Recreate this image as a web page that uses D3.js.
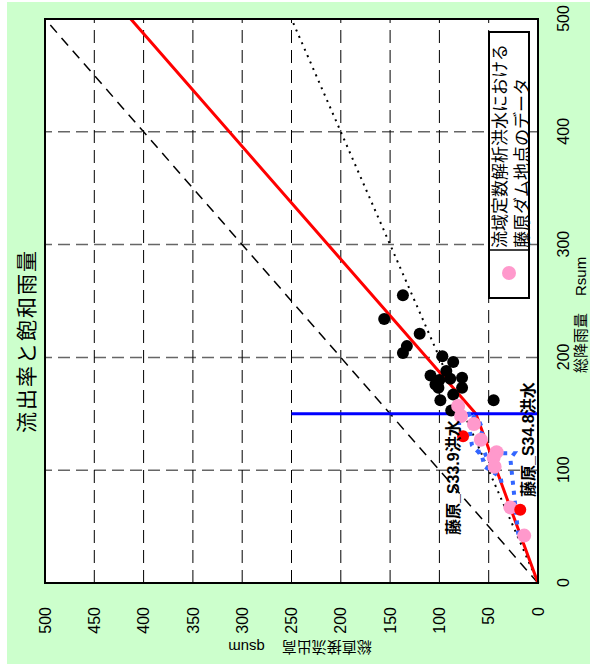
<!DOCTYPE html>
<html><head><meta charset="utf-8">
<script src="https://cdn.jsdelivr.net/npm/d3@7"></script>
<style>body{margin:0;background:#fff}svg{display:block}</style>
</head><body>
<svg id="c" width="590" height="669"></svg>
<script>
// ---- data (x = 総降雨量 Rsum, y = 総直接流出高 qsum) ----
const rsumTicks = [0,100,200,300,400,500];
const qsumTicks = [0,50,100,150,200,250,300,350,400,450,500];
const blackR = [255,234,221,210,204,201,196,188,184,182,181,180,176,173,173,167,162,162,153];
const blackQ = [137,156,120,133,137, 97, 86, 93,109, 77, 89,100,104,101, 77, 86, 99, 45, 88];
const pinkR = [157,148,141,127,116,111,103,67,42];
const pinkQ = [ 81, 78, 65, 58, 42, 45, 44,28,14];
const redR = [130,65];
const redQ = [ 76,18];
const redLabels = ["藤原_S33.9洪水","藤原_S34.8洪水"];
const modelR = [0,150,500];
const modelQ = [0,63,413];
const oneToOneR = [0,500], oneToOneQ = [0,500];
const halfR = [0,500], halfQ = [0,250];
const satR = [150,150], satQ = [0,250];
const traceA_R = [140,150,150,142,134,122,113,103,94,84];
const traceA_Q = [ 80, 80, 70, 67, 69, 67, 57, 54,38,36];
const traceB_R = [43,85,110,115,115,115,112,121,136,144,150];
const traceB_Q = [20,25, 28, 24, 36, 50, 58, 62, 56, 60, 69];
const title = "流出率と飽和雨量";
const xTitle = ["総降雨量","Rsum"];
const yTitle = ["総直接流出高","qsum"];
const legendLines = ["流域定数解析洪水における","藤原ダム地点のデータ"];

const svg = d3.select("#c");
svg.append("rect").attr("x",7).attr("y",2).attr("width",583).attr("height",662).attr("fill","#CCFFCC");

// original (unrotated) frame: width 669, height 590; rotated -90deg onto the page
const g = svg.append("g").attr("transform","translate(0,669) rotate(-90)");
const x = d3.scaleLinear().domain([0,500]).range([86,650]);
const y = d3.scaleLinear().domain([0,500]).range([538,45]);
const [x0,x1] = x.range(), [y0,y1] = [y(0), y(500)];

g.append("rect").attr("x",x0).attr("y",y1).attr("width",x1-x0).attr("height",y0-y1).attr("fill","#fff");

// grid
g.append("g").selectAll("line").data(rsumTicks.filter(d=>d>0&&d<500)).join("line")
  .attr("x1",d=>x(d)).attr("x2",d=>x(d)).attr("y1",y0).attr("y2",y1)
  .attr("stroke","#666").attr("stroke-width",1.5).attr("stroke-dasharray","12,6");
g.append("g").selectAll("line").data(qsumTicks.filter(d=>d>0&&d<500)).join("line")
  .attr("x1",x0).attr("x2",x1).attr("y1",d=>y(d)).attr("y2",d=>y(d))
  .attr("stroke","#000").attr("stroke-width",1).attr("stroke-dasharray","13,7");

const line = d3.line().x(d=>x(d[0])).y(d=>y(d[1]));
const zip = (a,b)=>a.map((v,i)=>[v,b[i]]);

g.append("path").attr("d",line(zip(oneToOneR,oneToOneQ))).attr("fill","none")
  .attr("stroke","#000").attr("stroke-width",1.5).attr("stroke-dasharray","10,7");
g.append("path").attr("d",line(zip(halfR,halfQ))).attr("fill","none")
  .attr("stroke","#000").attr("stroke-width",2).attr("stroke-dasharray","2,5");
g.append("path").attr("d",line(zip(modelR,modelQ))).attr("fill","none")
  .attr("stroke","#FF0000").attr("stroke-width",3);
g.append("path").attr("d",line(zip(satR,satQ))).attr("fill","none")
  .attr("stroke","#0000FF").attr("stroke-width",3);

g.append("g").selectAll("circle").data(zip(blackR,blackQ)).join("circle")
  .attr("cx",d=>x(d[0])).attr("cy",d=>y(d[1])).attr("r",6).attr("fill","#000");

[zip(traceA_R,traceA_Q), zip(traceB_R,traceB_Q)].forEach(t=>{
  g.append("path").attr("d",line(t)).attr("fill","none")
    .attr("stroke","#3366FF").attr("stroke-width",4).attr("stroke-dasharray","4,6");
});

g.append("g").selectAll("circle").data(zip(pinkR,pinkQ)).join("circle")
  .attr("cx",d=>x(d[0])).attr("cy",d=>y(d[1])).attr("r",7).attr("fill","#FF99CC");
g.append("g").selectAll("circle").data(zip(redR,redQ)).join("circle")
  .attr("cx",d=>x(d[0])).attr("cy",d=>y(d[1])).attr("r",6).attr("fill","#FF0000");

// data labels
const labelPos = [[134-86,453],[172-86,528]];
const lab = g.append("g").attr("font-family","'Liberation Sans','Noto Sans CJK JP',sans-serif")
  .attr("font-weight","bold").attr("font-size",16);
lab.selectAll("text").data(redLabels).join("text")
  .attr("x",(d,i)=>x0+labelPos[i][0]).attr("y",(d,i)=>labelPos[i][1])
  .attr("dominant-baseline","central").text(d=>d);

// frame
g.append("rect").attr("x",x0).attr("y",y1).attr("width",x1-x0).attr("height",y0-y1)
  .attr("fill","none").attr("stroke","#000").attr("stroke-width",2);

// axes
const fontTick = "'Liberation Sans',Arial,sans-serif";
const ax = g.append("g").attr("transform",`translate(0,${y0})`)
  .call(d3.axisBottom(x).tickValues(rsumTicks).tickSize(0).tickPadding(20));
const ay = g.append("g").attr("transform",`translate(${x0},0)`)
  .call(d3.axisLeft(y).tickValues(qsumTicks).tickSize(0).tickPadding(24));
[ax,ay].forEach(a=>{a.select(".domain").remove();
  a.selectAll("text").attr("font-family",fontTick).attr("font-size",16).attr("fill","#000");});

// axis titles
const tx = g.append("text").attr("x",296).attr("y",580).attr("dominant-baseline","central")
  .attr("font-family","'Liberation Sans','Noto Sans CJK JP',sans-serif").attr("font-size",15);
tx.append("tspan").text(xTitle[0]);
tx.append("tspan").attr("dx",17).text(xTitle[1]);
const ty = g.append("text").attr("transform","translate(21,300) rotate(-90)")
  .attr("text-anchor","middle").attr("dominant-baseline","central")
  .attr("font-family","'Liberation Sans','Noto Sans CJK JP',sans-serif").attr("font-size",15);
ty.append("tspan").text(yTitle[0]);
ty.append("tspan").attr("dx",17).text(yTitle[1]);

// title
g.append("text").attr("x",328).attr("y",25).attr("text-anchor","middle").attr("dominant-baseline","central")
  .attr("font-family","'Noto Sans CJK JP',sans-serif").attr("font-size",21).attr("letter-spacing",2)
  .text(title);

// legend
const lg = g.append("g");
lg.append("rect").attr("x",371).attr("y",489).attr("width",266).attr("height",40)
  .attr("fill","#fff").attr("stroke","#000").attr("stroke-width",2);
lg.append("line").attr("x1",419).attr("x2",419).attr("y1",489).attr("y2",529).attr("stroke","#000").attr("stroke-width",1.5);
lg.append("circle").attr("cx",396).attr("cy",509).attr("r",7).attr("fill","#FF99CC");
lg.selectAll("text.l").data(legendLines).join("text").attr("class","l")
  .attr("x",421).attr("y",(d,i)=>498+i*22).attr("dominant-baseline","central")
  .attr("font-family","'Noto Sans CJK JP',sans-serif").attr("font-size",17).text(d=>d);
</script>
</body></html>
